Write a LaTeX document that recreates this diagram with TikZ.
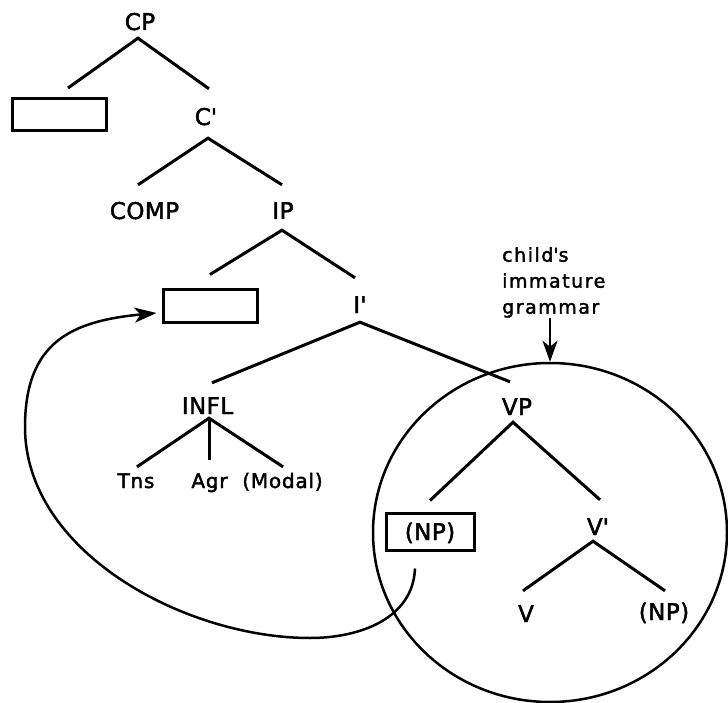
\documentclass[tikz,border=0pt]{standalone}
\usepackage{fontspec}
\setmainfont{DejaVu Sans}[LetterSpace=2,FakeBold=2]
\newfontfamily\smallfam{DejaVu Sans}[LetterSpace=4,FakeBold=2]
\newfontfamily\annfam{DejaVu Sans}[LetterSpace=8,FakeBold=2]
\usetikzlibrary{calc,arrows.meta,shapes.geometric}
\begin{document}
\begin{tikzpicture}[x=1pt,y=-1pt,
  lab/.style={font=\fontsize{23}{27}\selectfont, text height=17pt, text depth=0pt, inner sep=0pt, anchor=base},
  slab/.style={font=\smallfam\fontsize{20}{24}\selectfont, text height=14.6pt, text depth=0pt, inner sep=0pt, anchor=base},
  gapbox/.style={draw, line width=3pt, minimum width=94pt, minimum height=32pt, inner sep=0pt},
  branch/.style={line width=3pt},
  thin/.style={line width=2.5pt},
  tip/.style={-{Stealth[length=22pt,width=15pt,inset=6pt]}}
  ]
\useasboundingbox (0,0) rectangle (728,703);

% nodes
\node[lab] (CP) at (140,30) {CP};
\node[gapbox] (lbox) at (59,114.5) {};
\node[lab] (Cb) at (206,125) {C\textquotesingle};
\node[lab] (COMP) at (144.5,219) {COMP};
\node[lab] (IP) at (283,219) {IP};
\node[gapbox] (mbox) at (210,306) {};
\node[lab] (Ib) at (360,313) {I\textquotesingle};
\node[lab] (INFL) at (207.5,414) {INFL};
\node[slab] (Tns) at (136,488) {Tns};
\node[slab] (Agr) at (209.5,488) {Agr};
\node[slab] (Modal) at (282.5,488) {(Modal)};
\node[lab] (VP) at (517,415) {VP};
\node[draw, line width=3pt, minimum width=88pt, minimum height=37pt, inner sep=0pt,
      font=\fontsize{23}{27}\selectfont, text height=17pt, text depth=0pt] (np1) at (430,531.5) {(NP)};
\node[lab] (Vb) at (598,535) {V\textquotesingle};
\node[lab] (V) at (526,622) {V};
\node[lab] (np2) at (664,620) {(NP)};

\node[ellipse, draw, thin, minimum width=354pt, minimum height=339pt, inner sep=0pt] (circ) at (550,532.5) {};

\node[font=\annfam\fontsize{19}{26}\selectfont, align=left, anchor=north west, inner sep=0pt] (ann) at (502,247) {child\textquotesingle s\\immature\\grammar};

% branches
\draw[branch] ($(lbox.north)+(9,-9)$) -- ($(CP.south)+(-2,8)$) -- ($(Cb.north)+(3,-19)$);
\draw[branch] ($(COMP.north)+(-6.5,-17)$) -- ($(Cb.south)+(2,13)$) -- ($(IP.north)+(-1,-17)$);
\draw[branch] ($(mbox.north)+(0,-14)$) -- ($(IP.south)+(-1,11)$) -- ($(Ib.north)+(-5,-18)$);
\draw[branch] ($(INFL.north)+(4.5,-14)$) -- ($(Ib.south)+(0,9)$) -- ($(VP.north)+(-7,-16)$);
\draw[branch] ($(Tns.north)+(1,-6.4)$) -- ($(INFL.south)+(1.5,4)$) -- ($(Modal.north)+(0.5,-6.4)$);
\draw[branch] ($(INFL.south)+(1.5,4)$) -- ($(Agr.north)+(-0.5,-13.4)$);
\draw[branch] ($(np1.north)+(0,-11)$) -- ($(VP.south)+(-4,7)$) -- ($(Vb.north)+(2,-18)$);
\draw[branch] ($(V.north)+(-3,-14)$) -- ($(Vb.south)+(-5,6)$) -- ($(np2.north)+(1,-12)$);

% annotation arrow
\draw[thin, -{Stealth[length=21pt,width=15pt,inset=6pt]}] (circ.north |- ann.south) -- (circ.north);

% movement arrow
\coordinate (c1) at (310,638);
\coordinate (c2) at (25,427);
\draw[thin, tip] ($(np1.south)+(-15,17)$) .. controls +(-2,50) and +(50,0) .. (c1)
   .. controls +(-125,0) and +(0,125) .. (c2)
   .. controls +(0,-85) and +(-85,8) .. ($(mbox.west)+(-5,7)$);
\end{tikzpicture}
\end{document}
